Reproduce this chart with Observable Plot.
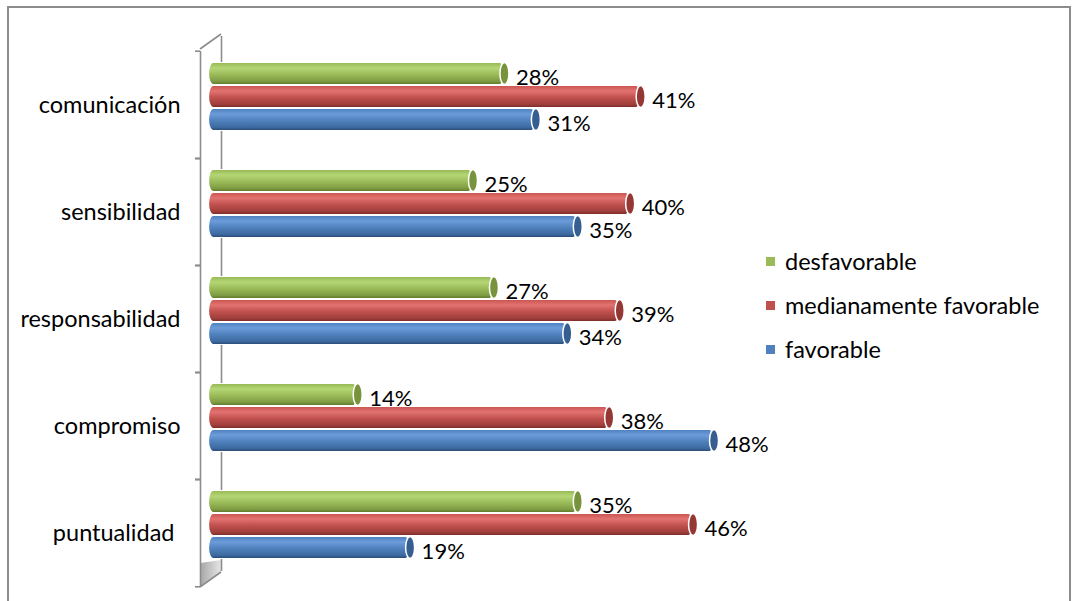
<!DOCTYPE html>
<html><head><meta charset="utf-8">
<script src="https://cdn.jsdelivr.net/npm/d3@7"></script>
<script src="https://cdn.jsdelivr.net/npm/@observablehq/plot@0.6"></script>
<style>
body{margin:0;background:#fff;}
#wrap{position:relative;width:1074px;height:601px;overflow:hidden;background:#fff;font-family:Lato,"Open Sans",sans-serif;}
#border{position:absolute;left:7px;top:6px;width:1064px;height:640px;border:2px solid #8c8c8c;box-sizing:border-box;}
#chart{position:absolute;left:0;top:0;}
#legend{position:absolute;left:766px;top:239px;font-size:23.5px;color:#000;}
.item{display:flex;align-items:center;height:44px;white-space:nowrap;}
.sw{width:9px;height:9px;margin-right:10px;flex:none;}
</style></head><body>
<div id="wrap"><div id="border"></div><div id="chart"></div><div id="legend"></div></div>
<script>
(function(){
// ---- data ----
const categories = ["comunicación", "sensibilidad", "responsabilidad", "compromiso", "puntualidad"];
const categoryLabels = ["comunicación", "sensibilidad", "responsabilidad", "compromiso", "puntualidad\u00a0"];
const series = ["desfavorable", "medianamente favorable", "favorable"];
const desfavorable = [28, 25, 27, 14, 35];
const medianamenteFavorable = [41, 40, 39, 38, 46];
const favorable = [31, 35, 34, 48, 19];
const seriesColors = ["#9bbb59", "#c0504d", "#4f81bd"];
const capColors = ["#77933c", "#953735", "#365f91"];

const valuesBySeries = [desfavorable, medianamenteFavorable, favorable];
const data = [];
categories.forEach((c, ci) => series.forEach((s, si) => data.push({category: c, series: s, value: valuesBySeries[si][ci]})));

// ---- layout ----
const W = 760, H = 601, mt = 49, mb = 14, ml = 211, mr = 25;
const band = (H - mt - mb) / categories.length;
const frontDx = -11, backDx = 10, depthDy = -7.5;
const axisColor = "#8c8c8c";
const fontFam = "Lato, 'Open Sans', sans-serif";

const plot = Plot.plot({
  width: W, height: H,
  marginTop: mt, marginBottom: mb, marginLeft: ml, marginRight: mr,
  style: {fontFamily: fontFam, fontSize: "22px", color: "#000", background: "transparent", overflow: "visible"},
  x: {domain: [0, 50], axis: null},
  y: {domain: series, axis: null, paddingInner: 1 / 24, paddingOuter: 0.762},
  fy: {domain: categories, axis: null, paddingInner: 0, paddingOuter: 0},
  color: {domain: series, range: series.map((s, i) => `url(#cyl${i})`)},
  marks: [
    Plot.ruleX([0], {dx: backDx, dy: 2 * depthDy, stroke: axisColor, strokeWidth: 1.6}),
    Plot.ruleX([0], {dx: frontDx, stroke: axisColor, strokeWidth: 1.6}),
    Plot.ruleY([0], {y: null, x1: () => 0, x2: () => 0, insetLeft: -16, insetRight: 11, dy: -band / 2, stroke: axisColor, strokeWidth: 1.6}),
    Plot.ruleY([0], {y: null, x1: () => 0, x2: () => 0, insetLeft: -16, insetRight: 11, dy: band / 2, stroke: axisColor, strokeWidth: 1.6}),
    Plot.barX(data, {fy: "category", y: "series", x: "value", fill: "series", stroke: "#fff", strokeWidth: 1.2, insetLeft: -2.5, rx: 4.5, ry: 11.5, dy: depthDy}),
    ...series.map((s, i) => Plot.barX(data.filter(d => d.series === s), {fy: "category", y: "series", x1: "value", x2: "value", insetLeft: -4.5, insetRight: -4.5, rx: 4.5, ry: 11.5, fill: capColors[i], stroke: "#fff", strokeWidth: 1.5, dy: depthDy})),
    Plot.text(data, {fy: "category", y: "series", x: "value", text: d => d.value + "%", textAnchor: "start", dx: 11, dy: depthDy + 4, fill: "#000"}),
    Plot.text(categories, {fy: d => d, x: () => 0, text: (d, i) => categoryLabels[i], textAnchor: "end", dx: -31, fill: "#000", fontSize: 23.5})
  ]
});

const grads = [
  ["#95b752", "#b5d675", "#9bbb59", "#7f9c43", "#5a7628"],
  ["#c8534f", "#e27370", "#c0504d", "#a03f3c", "#772a28"],
  ["#4d7fbe", "#6c9cd9", "#4f81bd", "#3d6aa0", "#274872"]
];
const defs = d3.select(plot).insert("defs", ":first-child");
grads.forEach((g, i) => {
  const lg = defs.append("linearGradient").attr("id", `cyl${i}`).attr("x1", 0).attr("y1", 0).attr("x2", 0).attr("y2", 1);
  [0, 0.25, 0.55, 0.85, 1].forEach((o, k) => lg.append("stop").attr("offset", o).attr("stop-color", g[k]));
});
const wg = defs.append("linearGradient").attr("id", "wallg").attr("x1", 0).attr("y1", 0).attr("x2", 1).attr("y2", 0);
wg.append("stop").attr("offset", 0).attr("stop-color", "#a6a6a6");
wg.append("stop").attr("offset", 1).attr("stop-color", "#e6e6e6");

const xs = plot.scale("x"), fys = plot.scale("fy");
const x0 = xs.apply(0);
const fxp = x0 + frontDx, bxp = x0 + backDx;
const yTop = fys.range[0], yBottom = fys.range[1];
const bTop = yTop + 2 * depthDy, bBottom = yBottom + 2 * depthDy;
const svg = d3.select(plot);
svg.insert("polygon", "defs + *")
  .attr("points", `${fxp},${yBottom - 24} ${bxp},${bBottom - 12} ${bxp},${bBottom} ${fxp},${yBottom}`)
  .attr("fill", "url(#wallg)").attr("stroke", "none");
svg.append("line").attr("x1", fxp).attr("y1", yTop).attr("x2", bxp).attr("y2", bTop).attr("stroke", axisColor).attr("stroke-width", 1.6);
svg.append("line").attr("x1", fxp).attr("y1", yBottom).attr("x2", bxp).attr("y2", bBottom).attr("stroke", axisColor).attr("stroke-width", 1.6);

document.getElementById("chart").appendChild(plot);

const legend = d3.select("#legend");
series.forEach((s, i) => {
  const it = legend.append("div").attr("class", "item");
  it.append("div").attr("class", "sw").style("background", seriesColors[i]);
  it.append("span").text(s);
});
})();
</script>
</body></html>
